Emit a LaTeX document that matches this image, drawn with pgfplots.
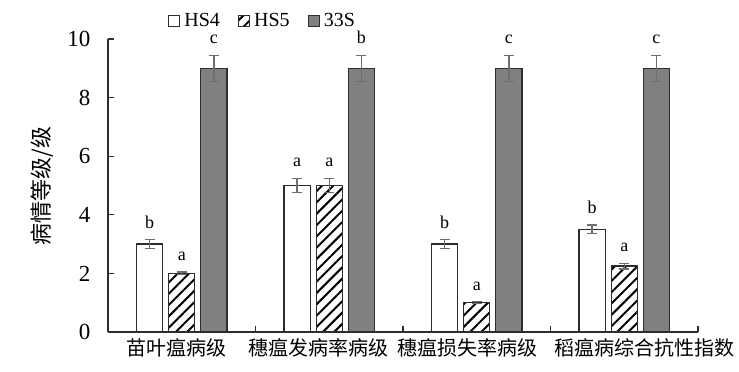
\documentclass[border=0pt]{standalone}
\usepackage{fontspec}
\setmainfont{Liberation Serif}
\newfontfamily\cjk{Noto Sans CJK SC}
\usepackage{pgfplots}
\pgfplotsset{compat=1.18}
\usetikzlibrary{patterns.meta}
\definecolor{bargray}{RGB}{128,128,128}
\definecolor{edge}{RGB}{45,45,45}
\definecolor{errgray}{RGB}{110,110,110}
\begin{document}
\begin{tikzpicture}
\path[use as bounding box] (-108pt,-40pt) rectangle (631pt,332pt);
\begin{axis}[
  at={(0pt,0pt)}, anchor=south west,
  width=590pt, height=293pt, scale only axis,
  xmin=-0.5, xmax=3.5, ymin=0, ymax=10,
  axis x line*=bottom, axis y line*=left,
  axis line style={edge, line width=1.2pt},
  xtick={-0.034,0.93,1.94,3.14},
  xticklabels={苗叶瘟病级,穗瘟发病率病级,穗瘟损失率病级,稻瘟病综合抗性指数},
  x tick label style={font=\cjk\fontsize{20pt}{22pt}\selectfont, yshift=-3pt},
  major x tick style={draw=none},
  minor xtick={0.5,1.5,2.5,3.5},
  minor x tick style={edge, line width=1.2pt},
  ytick={0,2,4,6,8,10},
  tick align=inside,
  major tick length=6pt, minor tick length=6pt,
  y tick style={edge, line width=1.2pt},
  y tick label style={font=\fontsize{23pt}{26pt}\selectfont, xshift=-14pt},
  /pgf/number format/assume math mode=true,
  ylabel={\cjk 病情等级/级},
  ylabel style={font=\fontsize{22pt}{24pt}\selectfont, at={(axis description cs:-0.112,0.498)}, anchor=center},
  legend columns=3,
  legend cell align=left,
  legend style={at={(0.1,1.025)}, anchor=south west, draw=none, fill=none,
    font=\fontsize{20pt}{22pt}\selectfont, inner sep=1pt,
    /tikz/every odd column/.append style={column sep=2pt},
    /tikz/every even column/.append style={column sep=16pt}},
  legend image code/.code={\draw[#1, line width=1.2pt] (0pt,-5.5pt) rectangle (11pt,5.5pt);},
]
\addplot[ybar, bar width=0.177, bar shift=0, fill=white, draw=edge, line width=1.2pt,
  error bars/.cd, y dir=both, y explicit,
  error bar style={errgray, line width=1.2pt},
  error mark options={rotate=90, errgray, mark size=5pt, line width=1.2pt}]
  coordinates {(-0.218,3) +- (0,0.15) (0.782,5) +- (0,0.25) (1.782,3) +- (0,0.15) (2.782,3.5) +- (0,0.15)};
\addlegendentry{HS4}
\addplot[ybar, bar width=0.177, bar shift=0, pattern={Lines[angle=45,distance=8pt,line width=2pt]}, pattern color=black, draw=edge, line width=1.2pt,
  error bars/.cd, y dir=both, y explicit,
  error bar style={errgray, line width=1.2pt},
  error mark options={rotate=90, errgray, mark size=5pt, line width=1.2pt}]
  coordinates {(0,2) +- (0,0.05) (1,5) +- (0,0.25) (2,1) +- (0,0.03) (3,2.25) +- (0,0.1)};
\addlegendentry{HS5}
\addplot[ybar, bar width=0.177, bar shift=0, fill=bargray, draw=edge, line width=1.2pt,
  error bars/.cd, y dir=both, y explicit,
  error bar style={errgray, line width=1.2pt},
  error mark options={rotate=90, errgray, mark size=5pt, line width=1.2pt}]
  coordinates {(0.218,9) +- (0,0.45) (1.218,9) +- (0,0.45) (2.218,9) +- (0,0.45) (3.218,9) +- (0,0.45)};
\addlegendentry{33S}
\addplot[draw=none, forget plot, nodes near coords, point meta=explicit symbolic,
  nodes near coords style={font=\fontsize{18pt}{20pt}\selectfont, anchor=south, inner sep=1pt, yshift=10pt}]
  coordinates {
  (-0.218,3.15)[b] (0.782,5.25)[a] (1.782,3.15)[b] (2.782,3.65)[b]
  (0,2.05)[a] (1,5.25)[a] (2,1.03)[a] (3,2.35)[a]
  (0.218,9.45)[c] (1.218,9.45)[b] (2.218,9.45)[c] (3.218,9.45)[c]};
\end{axis}
\end{tikzpicture}
\end{document}
